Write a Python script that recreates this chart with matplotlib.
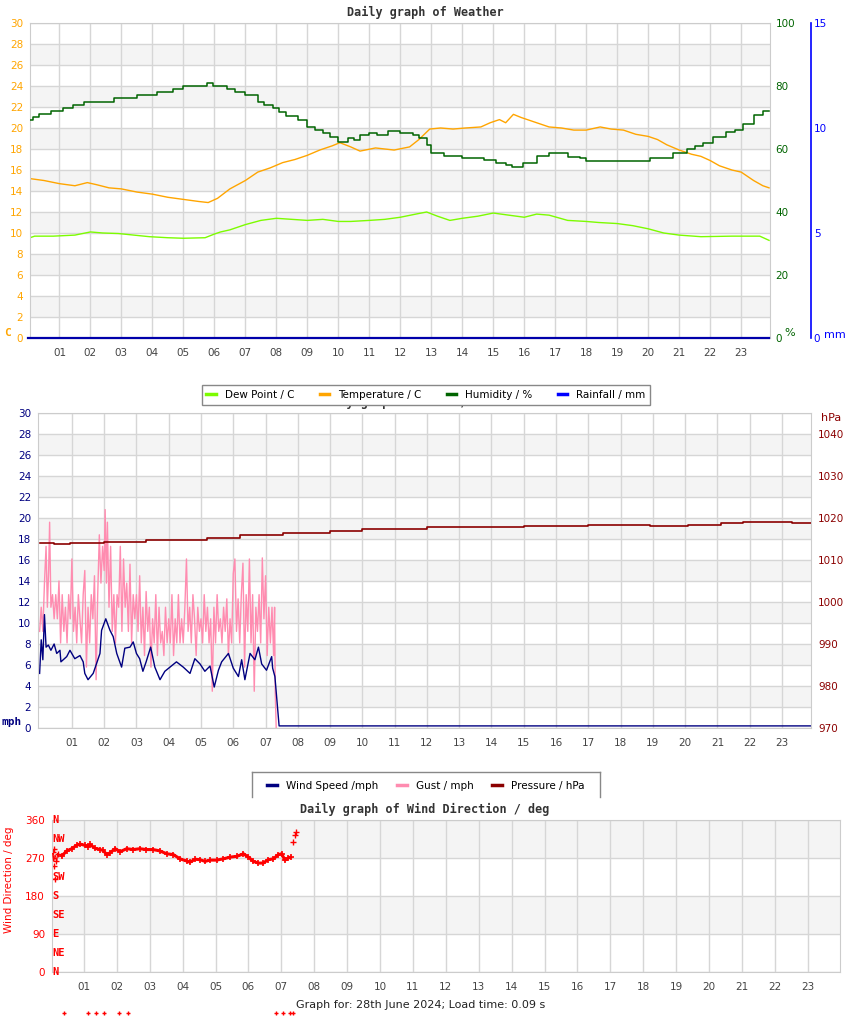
import matplotlib.pyplot as plt
import matplotlib.transforms as mtransforms
from matplotlib.lines import Line2D

plt.rcParams['font.family'] = ['DejaVu Sans']

# ---- chart 1: temperature / dew point / humidity / rain ----
temp_hours = [0.0, 0.5, 1.0, 1.5, 1.9, 2.2, 2.6, 3.0, 3.5, 4.0, 4.5, 5.0, 5.5, 5.8, 6.1,
              6.5, 7.0, 7.4, 7.8, 8.2, 8.6, 9.0, 9.4, 9.8, 10.05, 10.4, 10.7, 11.2, 11.8,
              12.3, 12.6, 12.95, 13.3, 13.7, 14.1, 14.6, 14.9, 15.2, 15.4, 15.65, 15.9,
              16.4, 16.8, 17.2, 17.6, 18.0, 18.45, 18.8, 19.2, 19.6, 20.0, 20.3, 20.6,
              21.0, 21.4, 21.7, 22.0, 22.3, 22.7, 23.0, 23.4, 23.7, 23.9]
temp_c = [15.2, 15.0, 14.7, 14.5, 14.8, 14.6, 14.3, 14.2, 13.9, 13.7, 13.4, 13.2, 13.0, 12.9, 13.3,
          14.2, 15.0, 15.8, 16.2, 16.7, 17.0, 17.4, 17.9, 18.3, 18.6, 18.2, 17.8, 18.1, 17.9,
          18.2, 18.9, 19.9, 20.0, 19.9, 20.0, 20.1, 20.5, 20.8, 20.5, 21.3, 21.0,
          20.5, 20.1, 20.0, 19.8, 19.8, 20.1, 19.9, 19.8, 19.4, 19.2, 18.9, 18.4,
          17.9, 17.5, 17.3, 16.9, 16.4, 16.0, 15.8, 15.0, 14.5, 14.3]

dew_hours = [0.0, 0.2, 0.8, 1.5, 2.0, 2.4, 2.9, 3.4, 3.9, 4.5, 5.0, 5.7, 6.0, 6.2, 6.5,
             7.0, 7.5, 8.0, 8.5, 9.0, 9.5, 10.0, 10.4, 11.0, 11.5, 12.0, 12.5, 12.85,
             13.2, 13.6, 14.0, 14.5, 15.0, 15.5, 16.0, 16.4, 16.8, 17.4, 18.0, 18.4,
             19.0, 19.5, 20.0, 20.5, 21.0, 21.7, 22.7, 23.6, 23.9]
dew_c = [9.5, 9.7, 9.7, 9.8, 10.1, 10.0, 9.95, 9.8, 9.65, 9.55, 9.5, 9.55, 9.9, 10.1, 10.3,
         10.8, 11.2, 11.4, 11.3, 11.2, 11.3, 11.1, 11.1, 11.2, 11.3, 11.5, 11.8, 12.0,
         11.6, 11.2, 11.4, 11.6, 11.9, 11.7, 11.5, 11.8, 11.7, 11.2, 11.1, 11.0,
         10.9, 10.7, 10.4, 10.0, 9.8, 9.65, 9.7, 9.7, 9.3]

hum_hours = [0.0, 0.15, 0.35, 0.72, 1.1, 1.43, 1.8, 2.76, 3.5, 4.14, 4.68, 5.0, 5.76, 5.97,
             6.4, 6.67, 7.0, 7.4, 7.6, 7.9, 8.1, 8.3, 8.7, 9.0, 9.25, 9.5, 9.73, 10.0,
             10.3, 10.5, 10.7, 11.0, 11.25, 11.6, 12.0, 12.4, 12.6, 12.85, 13.0, 13.4,
             14.0, 14.7, 15.1, 15.4, 15.6, 15.95, 16.4, 16.8, 17.4, 17.8, 18.0, 20.05,
             20.8, 21.24, 21.5, 21.76, 22.1, 22.5, 22.8, 23.05, 23.4, 23.7, 23.9]
hum_pct = [69.2, 70.0, 71.0, 72.0, 72.9, 73.9, 74.8, 76.1, 77.0, 78.0, 78.9, 79.9, 80.8, 80.0,
           79.1, 78.2, 77.0, 74.8, 74.0, 73.0, 71.8, 70.5, 69.2, 67.0, 66.0, 65.0, 63.8, 62.2,
           63.5, 63.0, 64.4, 65.0, 64.5, 65.7, 65.0, 64.5, 63.5, 61.3, 58.7, 57.8,
           57.1, 56.5, 55.5, 54.8, 54.3, 55.5, 57.8, 58.7, 57.5, 57.1, 56.2, 57.1,
           58.8, 60.0, 61.0, 61.9, 63.8, 65.5, 66.0, 68.0, 70.8, 72.0, 72.0]

rain_hours = [0.0, 23.9]
rain_mm = [0.0, 0.0]

# ---- chart 2: wind speed / gust / pressure ----
speed_hours = [0.0, 0.05, 0.1, 0.15, 0.2, 0.27, 0.35, 0.45, 0.53, 0.63, 0.66, 0.84, 0.94,
               1.09, 1.25, 1.35, 1.4, 1.5, 1.66, 1.76, 1.87, 1.92, 2.05, 2.18, 2.28, 2.39,
               2.54, 2.64, 2.8, 2.9, 3.0, 3.1, 3.2, 3.3, 3.44, 3.57, 3.73, 3.88, 4.04,
               4.24, 4.45, 4.66, 4.81, 4.97, 5.12, 5.28, 5.41, 5.54, 5.64, 5.85, 6.0,
               6.16, 6.26, 6.36, 6.52, 6.67, 6.78, 6.88, 7.03, 7.19, 7.22, 7.29, 7.42, 23.9]
speed_mph = [5.2, 8.4, 6.5, 10.8, 7.7, 7.9, 7.4, 8.0, 7.1, 7.4, 6.3, 6.8, 7.4,
             6.6, 6.9, 6.3, 5.2, 4.6, 5.2, 6.1, 7.1, 9.3, 10.4, 9.3, 8.7, 7.1,
             5.8, 7.6, 7.7, 8.2, 7.1, 6.6, 5.4, 6.3, 7.7, 5.8, 4.6, 5.4, 5.8,
             6.3, 5.8, 5.2, 6.6, 6.1, 5.4, 5.9, 3.9, 5.5, 6.3, 7.1, 5.7,
             4.9, 6.5, 4.6, 7.1, 6.5, 7.7, 6.1, 5.5, 6.8, 5.7, 4.9, 0.2, 0.2]

gust_hours = [0.0, 0.05, 0.1, 0.15, 0.2, 0.24, 0.28, 0.31, 0.35, 0.4, 0.45, 0.5, 0.55, 0.6,
              0.65, 0.7, 0.75, 0.8, 0.85, 0.9, 0.95, 1.0, 1.05, 1.1, 1.15, 1.2, 1.25, 1.3,
              1.35, 1.4, 1.45, 1.5, 1.55, 1.6, 1.65, 1.7, 1.75, 1.8, 1.85, 1.9, 1.95, 2.0,
              2.03, 2.07, 2.1, 2.15, 2.2, 2.25, 2.3, 2.35, 2.4, 2.45, 2.5, 2.55, 2.6, 2.65,
              2.7, 2.75, 2.8, 2.85, 2.9, 2.95, 3.0, 3.05, 3.1, 3.15, 3.2, 3.25, 3.3, 3.35,
              3.4, 3.45, 3.5, 3.55, 3.6, 3.65, 3.7, 3.75, 3.8, 3.85, 3.9, 3.95, 4.0, 4.05,
              4.1, 4.15, 4.2, 4.25, 4.3, 4.35, 4.4, 4.45, 4.5, 4.55, 4.6, 4.65, 4.7, 4.75,
              4.8, 4.85, 4.9, 4.95, 5.0, 5.05, 5.1, 5.15, 5.2, 5.25, 5.3, 5.35, 5.4, 5.45,
              5.5, 5.55, 5.6, 5.65, 5.7, 5.75, 5.8, 5.85, 5.9, 5.95, 6.0, 6.05, 6.1, 6.15,
              6.2, 6.25, 6.3, 6.35, 6.4, 6.45, 6.5, 6.55, 6.6, 6.65, 6.7, 6.75, 6.8, 6.85,
              6.9, 6.95, 7.0, 7.05, 7.1, 7.15, 7.2, 7.25, 7.28, 7.3, 7.33]
gust_mph = [9.2, 11.5, 9.2, 13.8, 17.3, 11.5, 15.0, 19.6, 11.5, 12.7, 10.4, 12.7, 10.4, 14.0,
            8.1, 12.7, 9.2, 11.5, 8.1, 12.7, 10.4, 16.1, 9.2, 11.5, 8.1, 12.7, 10.4, 8.1,
            12.7, 15.0, 5.8, 11.5, 8.1, 12.7, 10.4, 14.5, 4.6, 12.7, 18.4, 13.8, 17.3, 15.0,
            20.8, 13.8, 19.6, 11.5, 17.3, 9.2, 12.7, 8.1, 12.7, 11.5, 17.3, 9.2, 16.1, 11.5,
            13.8, 9.2, 15.6, 8.1, 12.7, 10.4, 12.7, 9.2, 14.5, 8.1, 11.5, 6.9, 13.0, 9.2,
            11.5, 5.8, 10.4, 8.1, 12.7, 6.9, 11.5, 8.1, 9.2, 6.9, 11.5, 8.1, 10.4, 8.1,
            12.7, 6.9, 10.4, 8.1, 12.7, 8.1, 10.4, 8.1, 11.5, 16.1, 9.2, 11.5, 8.1, 12.7,
            10.4, 6.9, 11.5, 9.2, 10.4, 8.1, 12.7, 9.2, 11.5, 8.1, 10.4, 3.5, 11.5, 8.1,
            12.7, 9.2, 10.4, 8.1, 11.5, 9.2, 12.3, 6.9, 10.4, 8.1, 14.7, 16.1, 9.2, 12.3,
            8.1, 12.7, 15.7, 5.8, 12.7, 9.2, 16.1, 8.1, 12.7, 3.5, 11.5, 9.2, 12.7, 8.1,
            16.2, 10.4, 14.5, 6.9, 11.5, 8.1, 11.5, 6.9, 11.5, 3.5, 0.0]

press_hours = [0.0, 0.45, 0.94, 1.46, 2.0, 3.3, 5.2, 6.2, 7.55, 9.0, 10.0, 12.0, 15.0,
               17.0, 18.9, 20.1, 21.1, 21.8, 23.3, 23.9]
press_hpa = [1014.0, 1013.7, 1014.1, 1014.0, 1014.4, 1014.8, 1015.2, 1015.9, 1016.5, 1016.8,
             1017.3, 1017.8, 1018.1, 1018.3, 1018.2, 1018.4, 1018.7, 1019.0, 1018.9, 1018.9]

# ---- chart 3: wind direction ----
dir_hours = [0.33, 0.48, 0.63, 0.78, 0.88, 1.03, 1.13, 1.19, 1.34, 1.49, 1.59, 1.69, 1.79,
             1.95, 2.1, 2.3, 2.5, 2.7, 2.9, 3.1, 3.3, 3.52, 3.72, 3.92, 4.12, 4.22, 4.38,
             4.53, 4.68, 4.83, 5.03, 5.24, 5.44, 5.65, 5.85, 6.0, 6.15, 6.3, 6.45, 6.6,
             6.76, 6.91, 7.01, 7.11, 7.21, 7.28]
dir_deg = [275, 287, 292, 300, 303, 300, 297, 302, 293, 290, 288, 278, 282,
           292, 285, 292, 290, 292, 290, 290, 287, 280, 278, 268, 263, 260, 267,
           266, 262, 265, 265, 268, 272, 274, 280, 272, 262, 258, 258, 266,
           268, 278, 280, 265, 270, 272]
dir_scatter_hours = [0.05, 0.07, 0.08, 0.1, 0.12, 0.15, 0.2, 7.36, 7.42, 7.45]
dir_scatter_deg = [270, 285, 292, 250, 220, 262, 280, 308, 325, 332]
dir_low_hours = [0.4, 1.12, 1.37, 1.61, 2.07, 2.34, 6.84, 7.05, 7.26, 7.36]
dir_low_deg = [-97, -97, -97, -97, -97, -97, -97, -97, -97, -97]
compass = ['N', 'NE', 'E', 'SE', 'S', 'SW', 'W', 'NW', 'N']

hour_ticks = list(range(1, 24))
hour_labels = ['%02d' % h for h in hour_ticks]

W, H = 850, 1017
fig = plt.figure(figsize=(W / 100, H / 100), dpi=100)


def box(l, t, r, b):
    return [l / W, 1 - b / H, (r - l) / W, (b - t) / H]


def base_axes(ax, xmin, xmax, ymax, ystep, bands, ycolor):
    ax.set_xlim(xmin, xmax)
    ax.set_ylim(0, ymax)
    ax.set_yticks(list(range(0, ymax + 1, ystep)))
    ax.set_xticks(hour_ticks)
    ax.set_xticklabels(hour_labels)
    for lo, hi in bands:
        ax.axhspan(lo, hi, color='#f4f4f4', zorder=0, lw=0)
    ax.grid(True, color='#d6d6d6', lw=1)
    ax.set_axisbelow(True)
    for s in ax.spines.values():
        s.set_color('#cccccc')
    ax.tick_params(axis='x', length=0, labelsize=7.5, colors='#444444', pad=7)
    ax.tick_params(axis='y', length=0, labelsize=7.5, colors=ycolor, pad=5)


mono = 'DejaVu Sans Mono'

# chart 1
ax1 = fig.add_axes(box(30, 23, 770, 338))
base_axes(ax1, 0.05, 23.93, 30, 2, [(lo, lo + 2) for lo in range(2, 30, 4)], '#ffa500')
ax1.plot(dew_hours, dew_c, color='#7cfc00', lw=1)
ax1.plot(temp_hours, temp_c, color='#ffa500', lw=1)

ax1h = ax1.twinx()
ax1h.set_ylim(0, 100)
ax1h.set_yticks([0, 20, 40, 60, 80, 100])
ax1h.tick_params(length=0, labelsize=7.5, colors='#006400', pad=4)
for s in ax1h.spines.values():
    s.set_visible(False)
ax1h.plot(hum_hours, hum_pct, color='#006400', lw=1.1, drawstyle='steps-post')

ax1r = ax1.twinx()
ax1r.set_ylim(0, 15)
ax1r.set_yticks([0, 5, 10, 15])
for name, s in ax1r.spines.items():
    s.set_visible(name == 'right')
ax1r.spines['right'].set_position(('axes', (811 - 30) / 740))
ax1r.spines['right'].set_color('#0000ff')
ax1r.spines['right'].set_linewidth(1.2)
ax1r.tick_params(length=0, labelsize=7.5, colors='#0000ff', pad=2)
ax1r.plot(rain_hours, rain_mm, color='#0000aa', lw=1.6, clip_on=False)

fig.text(0.5, 1 - 12 / H, 'Daily graph of Weather', ha='center', va='center',
         family=mono, weight='bold', fontsize=8.5, color='#333333')
fig.text(4 / W, 1 - 333 / H, 'C', color='#ffa500', weight='bold', family=mono, fontsize=8, va='center')
fig.text(784 / W, 1 - 333 / H, '%', color='#006400', fontsize=8, va='center')
fig.text(824 / W, 1 - 335 / H, 'mm', color='#0000ff', fontsize=8, va='center')

leg1 = [Line2D([], [], color=c, lw=2.5) for c in ['#7cfc00', '#ffa500', '#006400', '#0000ff']]
fig.legend(leg1, ['Dew Point / C', 'Temperature / C', 'Humidity / %', 'Rainfall / mm'],
           loc='center', bbox_to_anchor=(426 / W, 1 - 395 / H), ncol=4, fontsize=7.5,
           frameon=True, fancybox=False, edgecolor='#888888', framealpha=1,
           handlelength=0.9, columnspacing=2.4, handletextpad=0.9, borderpad=0.45)

# chart 2 (its title sits behind the legend above, as in the page)
fig.text(0.5, 1 - 402 / H, 'Daily graph of Wind / Pressure', ha='center', va='center',
         family=mono, weight='bold', fontsize=8.5, color='#333333')
ax2 = fig.add_axes(box(38, 413, 811, 728))
base_axes(ax2, -0.05, 23.9, 30, 2, [(lo, lo + 2) for lo in range(2, 30, 4)], '#000080')
ax2.plot(gust_hours, gust_mph, color='#ff8cb0', lw=1)
ax2.plot(speed_hours, speed_mph, color='#000080', lw=1)

ax2p = ax2.twinx()
ax2p.set_ylim(970, 1045)
ax2p.set_yticks(list(range(970, 1041, 10)))
ax2p.tick_params(length=0, labelsize=7.5, colors='#8b0000', pad=5)
for s in ax2p.spines.values():
    s.set_visible(False)
ax2p.plot(press_hours, press_hpa, color='#8b0000', lw=1.2, drawstyle='steps-post')

fig.text(2 / W, 1 - 722 / H, 'mph', color='#000080', weight='bold', family=mono, fontsize=8, va='center')
fig.text(821 / W, 1 - 418 / H, 'hPa', color='#8b0000', fontsize=8, va='center')

leg2 = [Line2D([], [], color=c, lw=2.5) for c in ['#000080', '#ff8cb0', '#8b0000']]
fig.legend(leg2, ['Wind Speed /mph', 'Gust / mph', 'Pressure / hPa'],
           loc='center', bbox_to_anchor=(426 / W, 1 - 786 / H), ncol=3, fontsize=7.5,
           frameon=False, handlelength=0.9, columnspacing=1.8, handletextpad=0.9)
for xs, ys in [([252, 252], [797, 772]), ([252, 600], [772, 772]), ([600, 600], [772, 797])]:
    fig.add_artist(Line2D([x / W for x in xs], [1 - y / H for y in ys], color='#888888', lw=1))

# chart 3
fig.text(0.5, 1 - 809 / H, 'Daily graph of Wind Direction / deg', ha='center', va='center',
         family=mono, weight='bold', fontsize=8.5, color='#333333')
ax3 = fig.add_axes(box(52, 820, 840, 972))
base_axes(ax3, 0.03, 23.98, 360, 90, [(90, 180), (270, 360)], '#ff0000')
ax3.set_ylabel('Wind Direction / deg', color='#ff0000', fontsize=7.5)
ax3.yaxis.set_label_coords((14 - 52) / 788, (972 - 880) / 152)
ax3.plot(dir_hours, dir_deg, color='#ff0000', lw=2.2, marker='+', ms=5, mew=1.2)
ax3.plot(dir_scatter_hours, dir_scatter_deg, ls='none', color='#ff0000', marker='+', ms=4, mew=1)
ax3.plot(dir_low_hours, dir_low_deg, ls='none', color='#ff0000', marker='+', ms=3.5, mew=1,
         clip_on=False)
trans = mtransforms.blended_transform_factory(ax3.transAxes, ax3.transData)
for i, name in enumerate(compass):
    ax3.text(0.0, i * 45, name, transform=trans, ha='left', va='center', color='#ff0000',
             family=mono, weight='bold', fontsize=7.5)

fig.text(421 / W, 1 - 1005 / H, 'Graph for: 28th June 2024; Load time: 0.09 s',
         ha='center', va='center', fontsize=8, color='#222222')

fig.savefig('out.png', dpi=100)
